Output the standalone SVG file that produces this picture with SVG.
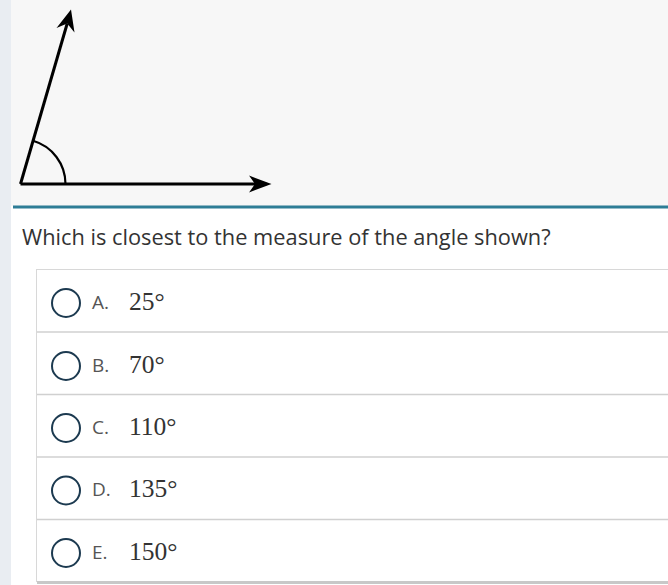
<svg xmlns="http://www.w3.org/2000/svg" width="668" height="585" viewBox="0 0 668 585">
<defs>
<style>
.ray{stroke:#000;stroke-width:3;fill:none}
.sep{stroke:#d0d0d0;stroke-width:1.5}
.radio{fill:#fff;stroke:#1c3a50;stroke-width:2}
.lbl{font-family:"Open Sans","Noto Sans",sans-serif;font-size:19px;fill:#555}
.val{font-family:"Liberation Serif",serif;font-size:25.5px;fill:#333}
.q{font-family:"Open Sans","Noto Sans",sans-serif;font-size:21.8px;fill:#333}
</style>
</defs>
<rect x="0" y="0" width="668" height="585" fill="#fff"/>
<rect x="0" y="0" width="668" height="206" fill="#f7f7f7"/>
<rect x="0" y="0" width="11" height="585" fill="#e9edf2"/>
<rect x="13" y="205.5" width="655" height="3" fill="#2e7d96"/>
<g id="figure">
<path class="ray" d="M20.5,184 L256,184"/>
<path d="M249,175.5 L271.5,184 L249,192.5 L255,184 Z" fill="#000"/>
<path class="ray" d="M20.5,184 L67.2,23.5"/>
<path d="M71,9.5 L74.5,32.5 L67.2,23.5 L56.5,28 Z" fill="#000"/>
<path d="M65.5,184 A45,45 0 0 0 33,140.8" stroke="#000" stroke-width="2.2" fill="none"/>
</g>
<text class="q" x="22" y="245">Which is closest to the measure of the angle shown?</text>
<g id="options">
<rect x="36.5" y="269.5" width="640" height="312" fill="#fff" stroke="#d8d8d8" stroke-width="1"/>
<rect x="37" y="581" width="631" height="3" fill="#c8c8c8"/>
<line class="sep" x1="37" y1="332" x2="668" y2="332"/>
<line class="sep" x1="37" y1="394.5" x2="668" y2="394.5"/>
<line class="sep" x1="37" y1="457" x2="668" y2="457"/>
<line class="sep" x1="37" y1="519.5" x2="668" y2="519.5"/>
</g>
<g id="optA">
<circle class="radio" cx="66" cy="303" r="14"/>
<text class="lbl" x="92" y="308.5">A.</text>
<text class="val" x="129" y="309.5">25°</text>
</g>
<g id="optB">
<circle class="radio" cx="66" cy="366" r="14"/>
<text class="lbl" x="92" y="371.5">B.</text>
<text class="val" x="129" y="372.5">70°</text>
</g>
<g id="optC">
<circle class="radio" cx="66" cy="428" r="14"/>
<text class="lbl" x="92" y="433.5">C.</text>
<text class="val" x="129" y="434.5">110°</text>
</g>
<g id="optD">
<circle class="radio" cx="66" cy="490.5" r="14"/>
<text class="lbl" x="92" y="496">D.</text>
<text class="val" x="129" y="497">135°</text>
</g>
<g id="optE">
<circle class="radio" cx="66" cy="553" r="14"/>
<text class="lbl" x="92" y="558.5">E.</text>
<text class="val" x="129" y="559.5">150°</text>
</g>
</svg>
